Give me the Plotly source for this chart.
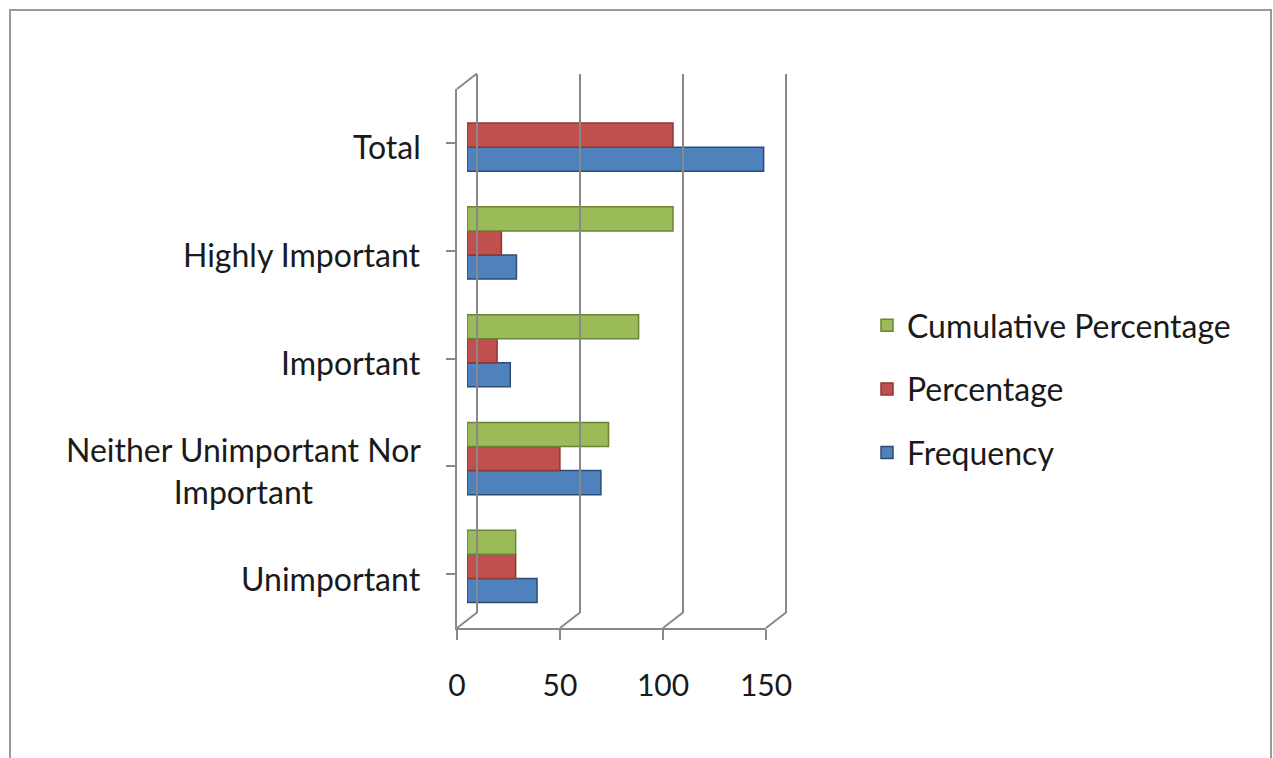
import plotly.graph_objects as go

W, H = 1273, 758

categories = ["Unimportant", "Neither Unimportant Nor<br>Important", "Important", "Highly Important", "Total"]
frequency = [34, 65, 21, 24, 144]
percentage = [23.6, 45.1, 14.6, 16.7, 100]
cumulative = [23.6, 68.7, 83.3, 100, None]
x_ticks = [0, 50, 100, 150]

colors = {"Frequency": "#4F81BD", "Percentage": "#C0504D", "Cumulative Percentage": "#9BBB59"}
edges = {"Frequency": "#2C4D75", "Percentage": "#8C3836", "Cumulative Percentage": "#6A8434"}
legend_rank = {"Cumulative Percentage": 1, "Percentage": 2, "Frequency": 3}

FONT = "Lato"
GRAY = "#888888"

def px(x):
    return x / W

def py(y):
    return 1 - y / H

# front frame (pixels)
FX0, FX1, FY0, FY1 = 457, 766, 89, 628
DX, DY = 20, -15.5  # depth offset of the back wall

fig = go.Figure()

# bars on a mid-depth axis pair
for name, vals in [("Frequency", frequency), ("Percentage", percentage), ("Cumulative Percentage", cumulative)]:
    fig.add_trace(go.Bar(
        y=list(range(len(categories))), x=vals, orientation="h", name=name,
        marker=dict(color=colors[name], line=dict(color=edges[name], width=1.5)),
        xaxis="x2", yaxis="y2", legendgroup=name, legendrank=legend_rank[name],
    ))

# invisible traces to anchor front and back axes
fig.add_trace(go.Scatter(x=[0] * len(categories), y=list(range(len(categories))), mode="markers",
                         marker=dict(opacity=0), showlegend=False, hoverinfo="skip", xaxis="x", yaxis="y"))
fig.add_trace(go.Scatter(x=[0], y=[0], mode="markers", marker=dict(opacity=0),
                         showlegend=False, hoverinfo="skip", xaxis="x3", yaxis="y3"))

span = FX1 - FX0
ppu = span / 150.0
ext = 5  # extra units so edge grid lines are drawn

fig.update_layout(
    width=W, height=H, margin=dict(l=0, r=0, t=0, b=0, autoexpand=False),
    paper_bgcolor="white", plot_bgcolor="rgba(0,0,0,0)",
    barmode="group", bargap=0.33, bargroupgap=0.0,
    font=dict(family=FONT, color="#1a1a1a"),
    xaxis=dict(domain=[px(FX0), px(FX1)], range=[0, 150], tickvals=x_ticks,
               showline=True, linecolor=GRAY, linewidth=2, ticks="outside", ticklen=10,
               tickwidth=2, tickcolor=GRAY, showgrid=False, zeroline=False,
               tickfont=dict(family=FONT, size=30, color="#1a1a1a"), ticklabelstandoff=20,
               anchor="y", fixedrange=True, automargin=False),
    yaxis=dict(domain=[py(FY1), py(FY0)], range=[-0.5, len(categories) - 0.5],
               tickvals=list(range(len(categories))), tickson="boundaries",
               showline=True, linecolor=GRAY, linewidth=2, ticks="outside", ticklen=9,
               tickwidth=2, tickcolor=GRAY, showgrid=False, zeroline=False,
               showticklabels=False, anchor="x", fixedrange=True, automargin=False),
    xaxis2=dict(domain=[px(FX0 + DX / 2), px(FX1 + DX / 2)], range=[0, 150], visible=False,
                anchor="y2", fixedrange=True, automargin=False),
    yaxis2=dict(domain=[py(FY1 + DY / 2), py(FY0 + DY / 2)], range=[-0.5, len(categories) - 0.5],
                visible=False, anchor="x2", fixedrange=True, automargin=False),
    xaxis3=dict(domain=[px(FX0 + DX - ext * ppu), px(FX1 + DX + ext * ppu)], range=[-ext, 150 + ext],
                tickvals=x_ticks, showgrid=True, gridcolor=GRAY, gridwidth=2,
                showticklabels=False, ticks="", zeroline=False, showline=False,
                anchor="y3", fixedrange=True, automargin=False),
    yaxis3=dict(domain=[py(FY1 + DY), py(FY0 + DY)], range=[0, 1], visible=False,
                anchor="x3", fixedrange=True, automargin=False),
    legend=dict(x=px(867), y=py(298), xanchor="left", yanchor="top",
                font=dict(family=FONT, size=32, color="#1a1a1a"),
                traceorder="grouped", tracegroupgap=19, bgcolor="rgba(0,0,0,0)"),
    showlegend=True,
)

# category labels
for i, c in enumerate(categories):
    fig.add_annotation(x=px(423), xref="paper", y=i, yref="y", text=c, showarrow=False,
                       xanchor="right", yanchor="middle", align="center", yshift=-4,
                       font=dict(family=FONT, size=32, color="#1a1a1a"))

# depth lines of the 3-D frame
shapes = []
shapes.append(dict(type="line", xref="paper", yref="paper", x0=px(FX0), y0=py(FY0),
                   x1=px(FX0 + DX), y1=py(FY0 + DY), line=dict(color=GRAY, width=2)))
for t in x_ticks:
    xf = FX0 + ppu * t
    shapes.append(dict(type="line", xref="paper", yref="paper", x0=px(xf), y0=py(FY1),
                       x1=px(xf + DX), y1=py(FY1 + DY), line=dict(color=GRAY, width=2)))
# outer chart border
shapes.append(dict(type="rect", xref="paper", yref="paper", x0=px(10), y0=py(762), x1=px(1271), y1=py(10),
                   line=dict(color="#999999", width=2), fillcolor="rgba(0,0,0,0)"))
fig.update_layout(shapes=shapes)

fig.write_html("out.html", config={"displayModeBar": False},
               post_script="document.body.style.margin='0';document.body.style.overflow='hidden';")
